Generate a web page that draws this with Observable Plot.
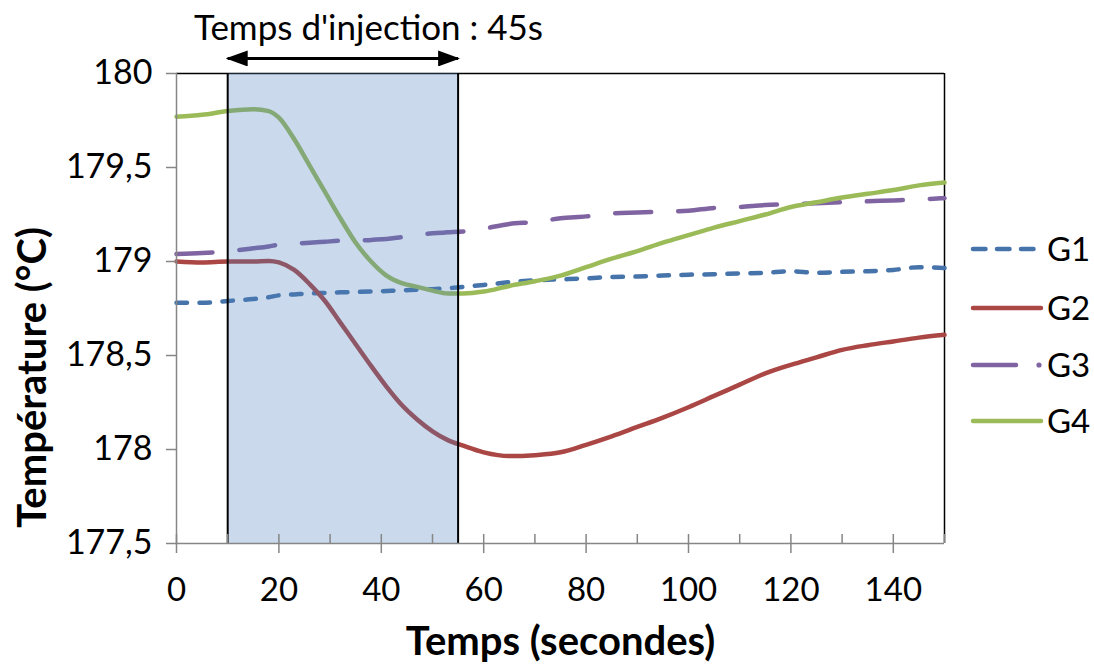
<!DOCTYPE html>
<html><head><meta charset="utf-8">
<script src="https://cdn.jsdelivr.net/npm/d3@7"></script>
<script src="https://cdn.jsdelivr.net/npm/@observablehq/plot@0.6"></script>
<style>
html,body{margin:0;padding:0;background:#fff;}
#wrap{position:relative;width:1094px;height:667px;overflow:hidden;}
#legend{position:absolute;left:0;top:0;}
</style></head><body><div id="wrap"></div>
<script>
// ---- data ----
const times = [0,5,10,15,18,20,23,26,29,32,35,38,41,44,47,50,53,56,60,65,70,75,80,85,90,95,100,105,110,115,120,125,130,135,140,145,150];
const g1 = [178.78,178.78,178.79,178.80,178.81,178.82,178.825,178.83,178.833,178.836,178.838,178.84,178.843,178.846,178.85,178.853,178.858,178.865,178.875,178.89,178.90,178.905,178.91,178.918,178.92,178.925,178.93,178.932,178.937,178.94,178.948,178.94,178.945,178.948,178.955,178.97,178.965];
const g2 = [179.0,178.995,179.0,179.0,179.003,178.995,178.955,178.88,178.79,178.675,178.56,178.445,178.335,178.237,178.16,178.097,178.05,178.02,177.985,177.965,177.97,177.985,178.025,178.07,178.12,178.17,178.225,178.285,178.345,178.405,178.45,178.49,178.53,178.555,178.575,178.595,178.61];
const g3 = [179.04,179.045,179.055,179.07,179.08,179.09,179.095,179.10,179.105,179.11,179.11,179.115,179.12,179.13,179.14,179.15,179.155,179.16,179.175,179.20,179.21,179.23,179.24,179.255,179.26,179.265,179.27,179.285,179.29,179.30,179.305,179.31,179.315,179.32,179.325,179.33,179.337];
const g4 = [179.77,179.78,179.80,179.81,179.80,179.765,179.65,179.51,179.37,179.23,179.10,179.00,178.925,178.885,178.865,178.845,178.83,178.83,178.84,178.87,178.895,178.925,178.97,179.015,179.055,179.10,179.14,179.18,179.215,179.25,179.29,179.315,179.34,179.36,179.38,179.405,179.42];
const seriesNames = ["G1","G2","G3","G4"];
const injection = [10, 55];
const xTicks = [0,20,40,60,80,100,120,140];
const xMinor = d3.range(0,151,10);
const yTicks = [177.5,178,178.5,179,179.5,180];
const titleText = "Temps d'injection : 45s";
const xLabel = "Temps (secondes)";
const yLabel = "Température (°C)";

// ---- styles ----
const values = [g1,g2,g3,g4];
const colors = ["#4573AA","#AA4643","#8064A2","#9BBB59"];
const dashes = ["10.5,12.5", null, "36,27", null];
const axisGray = "#868686";
const FONT = "Lato, 'Open Sans', sans-serif";

const lineMarks = values.map((vals, k) => Plot.line(times, {
  x: d => d, y: (d, i) => vals[i],
  stroke: colors[k], strokeWidth: 4.5, strokeDasharray: dashes[k],
  strokeLinecap: "round", strokeLinejoin: "round", curve: "monotone-x"
}));

const plot = Plot.plot({
  width: 1094, height: 667,
  marginLeft: 176, marginRight: 150, marginTop: 73, marginBottom: 124,
  style: {fontFamily: FONT, background: "white", overflow: "visible", color: "black"},
  x: {domain: [0, 150]},
  y: {domain: [177.5, 180]},
  marks: [
    Plot.ruleY([180], {stroke: "black", strokeWidth: 1.5}),
    Plot.ruleX([150], {stroke: "black", strokeWidth: 1.5}),
    ...lineMarks,
    Plot.rect([injection], {x1: d => d[0], x2: d => d[1], fill: "#4F81BD", fillOpacity: 0.3}),
    Plot.ruleX(injection, {stroke: "black", strokeWidth: 2}),
    Plot.ruleX([0], {stroke: axisGray, strokeWidth: 1.5}),
    Plot.ruleY([177.5], {stroke: axisGray, strokeWidth: 1.5}),
    Plot.tickX(xMinor, {x: d => d, stroke: axisGray, strokeWidth: 1.5, insetTop: 461}),
    Plot.axisX({ticks: xTicks, tickSize: 10, tickPadding: 24, fontSize: 33, stroke: axisGray, strokeWidth: 1.5, fill: "black", label: null}),
    Plot.axisY({ticks: yTicks, tickSize: 10, tickPadding: 14, fontSize: 34, stroke: axisGray, strokeWidth: 1.5, fill: "black", label: null,
      tickFormat: d => String(d).replace(".", ",")}),
    Plot.link([injection], {x1: d => d[0], x2: d => d[1], y1: () => 180.08, y2: () => 180.08, stroke: "black", strokeWidth: 3}),
    Plot.text([titleText], {text: d => d, frameAnchor: "top-left", lineAnchor: "middle", dx: 192, dy: -45, textAnchor: "middle", fontSize: 35, fill: "black"}),
    Plot.text([xLabel], {text: d => d, frameAnchor: "bottom", lineAnchor: "middle", dy: 99, fontSize: 40, fontWeight: "bold", fill: "black"}),
    Plot.text([yLabel], {text: d => d, frameAnchor: "left", lineAnchor: "middle", textAnchor: "middle", dx: -143, dy: 69, rotate: -90, fontSize: 40, fontWeight: "bold", fill: "black"})
  ]
});
document.getElementById("wrap").appendChild(plot);

// filled arrowheads on the injection arrow
const svg = d3.select(plot);
const defs = svg.insert("defs", ":first-child");
defs.append("marker").attr("id", "ahead").attr("markerUnits", "userSpaceOnUse")
  .attr("markerWidth", 22).attr("markerHeight", 16).attr("refX", 20).attr("refY", 8)
  .attr("orient", "auto-start-reverse").attr("viewBox", "0 0 22 16")
  .append("path").attr("d", "M0,0L22,8L0,16Z").attr("fill", "black");
svg.selectAll('g[aria-label="link"] path').attr("marker-start", "url(#ahead)").attr("marker-end", "url(#ahead)");

// legend
const leg = d3.select("#wrap").append("svg").attr("id", "legend").attr("width", 1094).attr("height", 667);
const rowsY = [249, 308, 365, 421];
seriesNames.forEach((name, k) => {
  const y = rowsY[k];
  const g = leg.append("g");
  if (k === 0) {
    g.append("line").attr("x1", 973).attr("x2", 1041).attr("y1", y).attr("y2", y)
      .attr("stroke", colors[k]).attr("stroke-width", 4.5).attr("stroke-linecap", "round").attr("stroke-dasharray", "12.5,11.5");
  } else if (k === 2) {
    g.append("line").attr("x1", 973).attr("x2", 1016).attr("y1", y).attr("y2", y)
      .attr("stroke", colors[k]).attr("stroke-width", 4.5).attr("stroke-linecap", "round");
    g.append("circle").attr("cx", 1039).attr("cy", y).attr("r", 2.6).attr("fill", colors[k]);
  } else {
    g.append("line").attr("x1", 973).attr("x2", 1041).attr("y1", y).attr("y2", y)
      .attr("stroke", colors[k]).attr("stroke-width", 4.5).attr("stroke-linecap", "round");
  }
  g.append("text").attr("x", 1047).attr("y", y).attr("dy", "0.35em").attr("font-family", FONT)
    .attr("font-size", 33).attr("fill", "black").text(name);
});
</script></body></html>
